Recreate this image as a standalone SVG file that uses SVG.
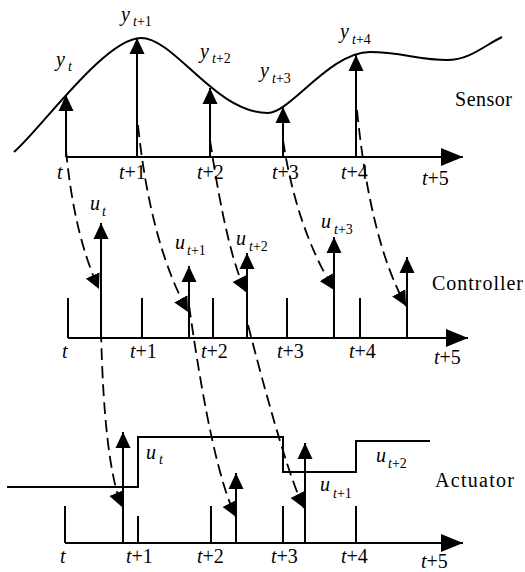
<svg xmlns="http://www.w3.org/2000/svg" width="525" height="572" viewBox="0 0 525 572">
<defs>
<style>
.ax{stroke:#000;stroke-width:2;fill:none;marker-end:url(#mAx)}
.tk{stroke:#000;stroke-width:2;fill:none}
.ar{stroke:#000;stroke-width:2;fill:none;marker-end:url(#mUp)}
.sig{stroke:#000;stroke-width:2;fill:none}
.dash{stroke:#000;stroke-width:1.8;fill:none;stroke-dasharray:12 6;marker-end:url(#mDh)}
text{font-family:"Liberation Serif","Times New Roman",serif;fill:#000}
.lb{font-size:20px}
.i{font-style:italic}
.v{font-size:20px;font-style:italic}
.s{font-size:14px}
.nm{font-size:20px}
</style>
<marker id="mAx" markerUnits="userSpaceOnUse" viewBox="-22 -9 22 18" markerWidth="22" markerHeight="18" refX="0" refY="0" orient="auto"><path d="M0,0 L-22,-9 L-22,9Z" fill="#000"/></marker>
<marker id="mUp" markerUnits="userSpaceOnUse" viewBox="-16 -8 16 16" markerWidth="16" markerHeight="16" refX="0" refY="0" orient="auto"><path d="M0,0 L-16,-7.5 L-16,7.5Z" fill="#000"/></marker>
<marker id="mDh" markerUnits="userSpaceOnUse" viewBox="-15 -8 15 16" markerWidth="15" markerHeight="16" refX="0" refY="0" orient="auto"><path d="M0,0 L-15,-7.5 L-15,7.5Z" fill="#000"/></marker>
</defs>
<rect width="525" height="572" fill="#fff"/>

<g id="sensor">
<path class="sig" d="M14,152 C40,130 105,38 141,38 C175,38 215,113 268,113 C290,113 330,52 370,52 C400,52 420,60 447,60 C470,60 485,45 502,37"/>
<path class="ax" d="M66,157 H463"/>
<path class="ar" d="M66,157 V95"/>
<path class="ar" d="M137,157 V38"/>
<path class="ar" d="M210,157 V88"/>
<path class="ar" d="M283,157 V107"/>
<path class="ar" d="M356,157 V55"/>
<text class="v" x="56" y="66">y</text><text class="s i" x="68" y="71">t</text>
<text class="v" x="121" y="21">y</text><text class="s" x="133" y="26"><tspan class="i">t</tspan>+1</text>
<text class="v" x="200" y="58">y</text><text class="s" x="212" y="63"><tspan class="i">t</tspan>+2</text>
<text class="v" x="260" y="77">y</text><text class="s" x="272" y="83"><tspan class="i">t</tspan>+3</text>
<text class="v" x="340" y="38">y</text><text class="s" x="352" y="44"><tspan class="i">t</tspan>+4</text>
<text class="lb i" x="57" y="179">t</text>
<text class="lb" x="119" y="179"><tspan class="i">t</tspan>+1</text>
<text class="lb" x="197" y="179"><tspan class="i">t</tspan>+2</text>
<text class="lb" x="272" y="179"><tspan class="i">t</tspan>+3</text>
<text class="lb" x="341" y="179"><tspan class="i">t</tspan>+4</text>
<text class="lb" x="422" y="185"><tspan class="i">t</tspan>+5</text>
<text class="nm" x="455" y="106" textLength="57">Sensor</text>
</g>

<g id="controller">
<path class="ax" d="M68,338 H468"/>
<path class="tk" d="M68,298 V338 M142,298 V338 M213,298 V338 M287,298 V338 M360,298 V338"/>
<path class="ar" d="M101,338 V223"/>
<path class="ar" d="M189,338 V266"/>
<path class="ar" d="M247,338 V253"/>
<path class="ar" d="M334,338 V237"/>
<path class="ar" d="M407,338 V257"/>
<text class="v" x="90" y="210">u</text><text class="s i" x="102" y="216">t</text>
<text class="v" x="175" y="249">u</text><text class="s" x="187" y="255"><tspan class="i">t</tspan>+1</text>
<text class="v" x="236" y="245">u</text><text class="s" x="249" y="251"><tspan class="i">t</tspan>+2</text>
<text class="v" x="321" y="228">u</text><text class="s" x="334" y="234"><tspan class="i">t</tspan>+3</text>
<text class="lb i" x="62" y="358">t</text>
<text class="lb" x="130" y="358"><tspan class="i">t</tspan>+1</text>
<text class="lb" x="201" y="358"><tspan class="i">t</tspan>+2</text>
<text class="lb" x="277" y="358"><tspan class="i">t</tspan>+3</text>
<text class="lb" x="349" y="358"><tspan class="i">t</tspan>+4</text>
<text class="lb" x="434" y="364"><tspan class="i">t</tspan>+5</text>
<text class="nm" x="432" y="290" textLength="91">Controller</text>
</g>

<g id="actuator">
<path class="sig" d="M7,487 H138 V437 H283 V472 H356 V441 H430"/>
<path class="ax" d="M65,543 H463"/>
<path class="tk" d="M65,506 V543 M138,516 V543 M211,506 V543 M283,506 V543 M356,506 V543"/>
<path class="ar" d="M123,543 V432"/>
<path class="ar" d="M236,543 V473"/>
<path class="ar" d="M305,543 V443"/>
<text class="v" x="146" y="459">u</text><text class="s i" x="159" y="464">t</text>
<text class="v" x="320" y="491">u</text><text class="s" x="333" y="498"><tspan class="i">t</tspan>+1</text>
<text class="v" x="376" y="462">u</text><text class="s" x="388" y="468"><tspan class="i">t</tspan>+2</text>
<text class="lb i" x="60" y="563">t</text>
<text class="lb" x="126" y="563"><tspan class="i">t</tspan>+1</text>
<text class="lb" x="197" y="563"><tspan class="i">t</tspan>+2</text>
<text class="lb" x="271" y="563"><tspan class="i">t</tspan>+3</text>
<text class="lb" x="341" y="563"><tspan class="i">t</tspan>+4</text>
<text class="lb" x="421" y="568"><tspan class="i">t</tspan>+5</text>
<text class="nm" x="435" y="487" textLength="79">Actuator</text>
</g>

<g id="connectors">
<path class="dash" d="M66,150 Q74,235 99,289"/>
<path class="dash" d="M138,125 Q150,242 188,312"/>
<path class="dash" d="M210,140 Q227,254 246,292"/>
<path class="dash" d="M283,140 Q296,227 334,290"/>
<path class="dash" d="M357,110 Q370,241 406,306"/>
<path class="dash" d="M101,330 Q104,463 122,507"/>
<path class="dash" d="M189,305 Q212,469 236,517"/>
<path class="dash" d="M248,325 Q286,472 304,508"/>
</g>
</svg>
